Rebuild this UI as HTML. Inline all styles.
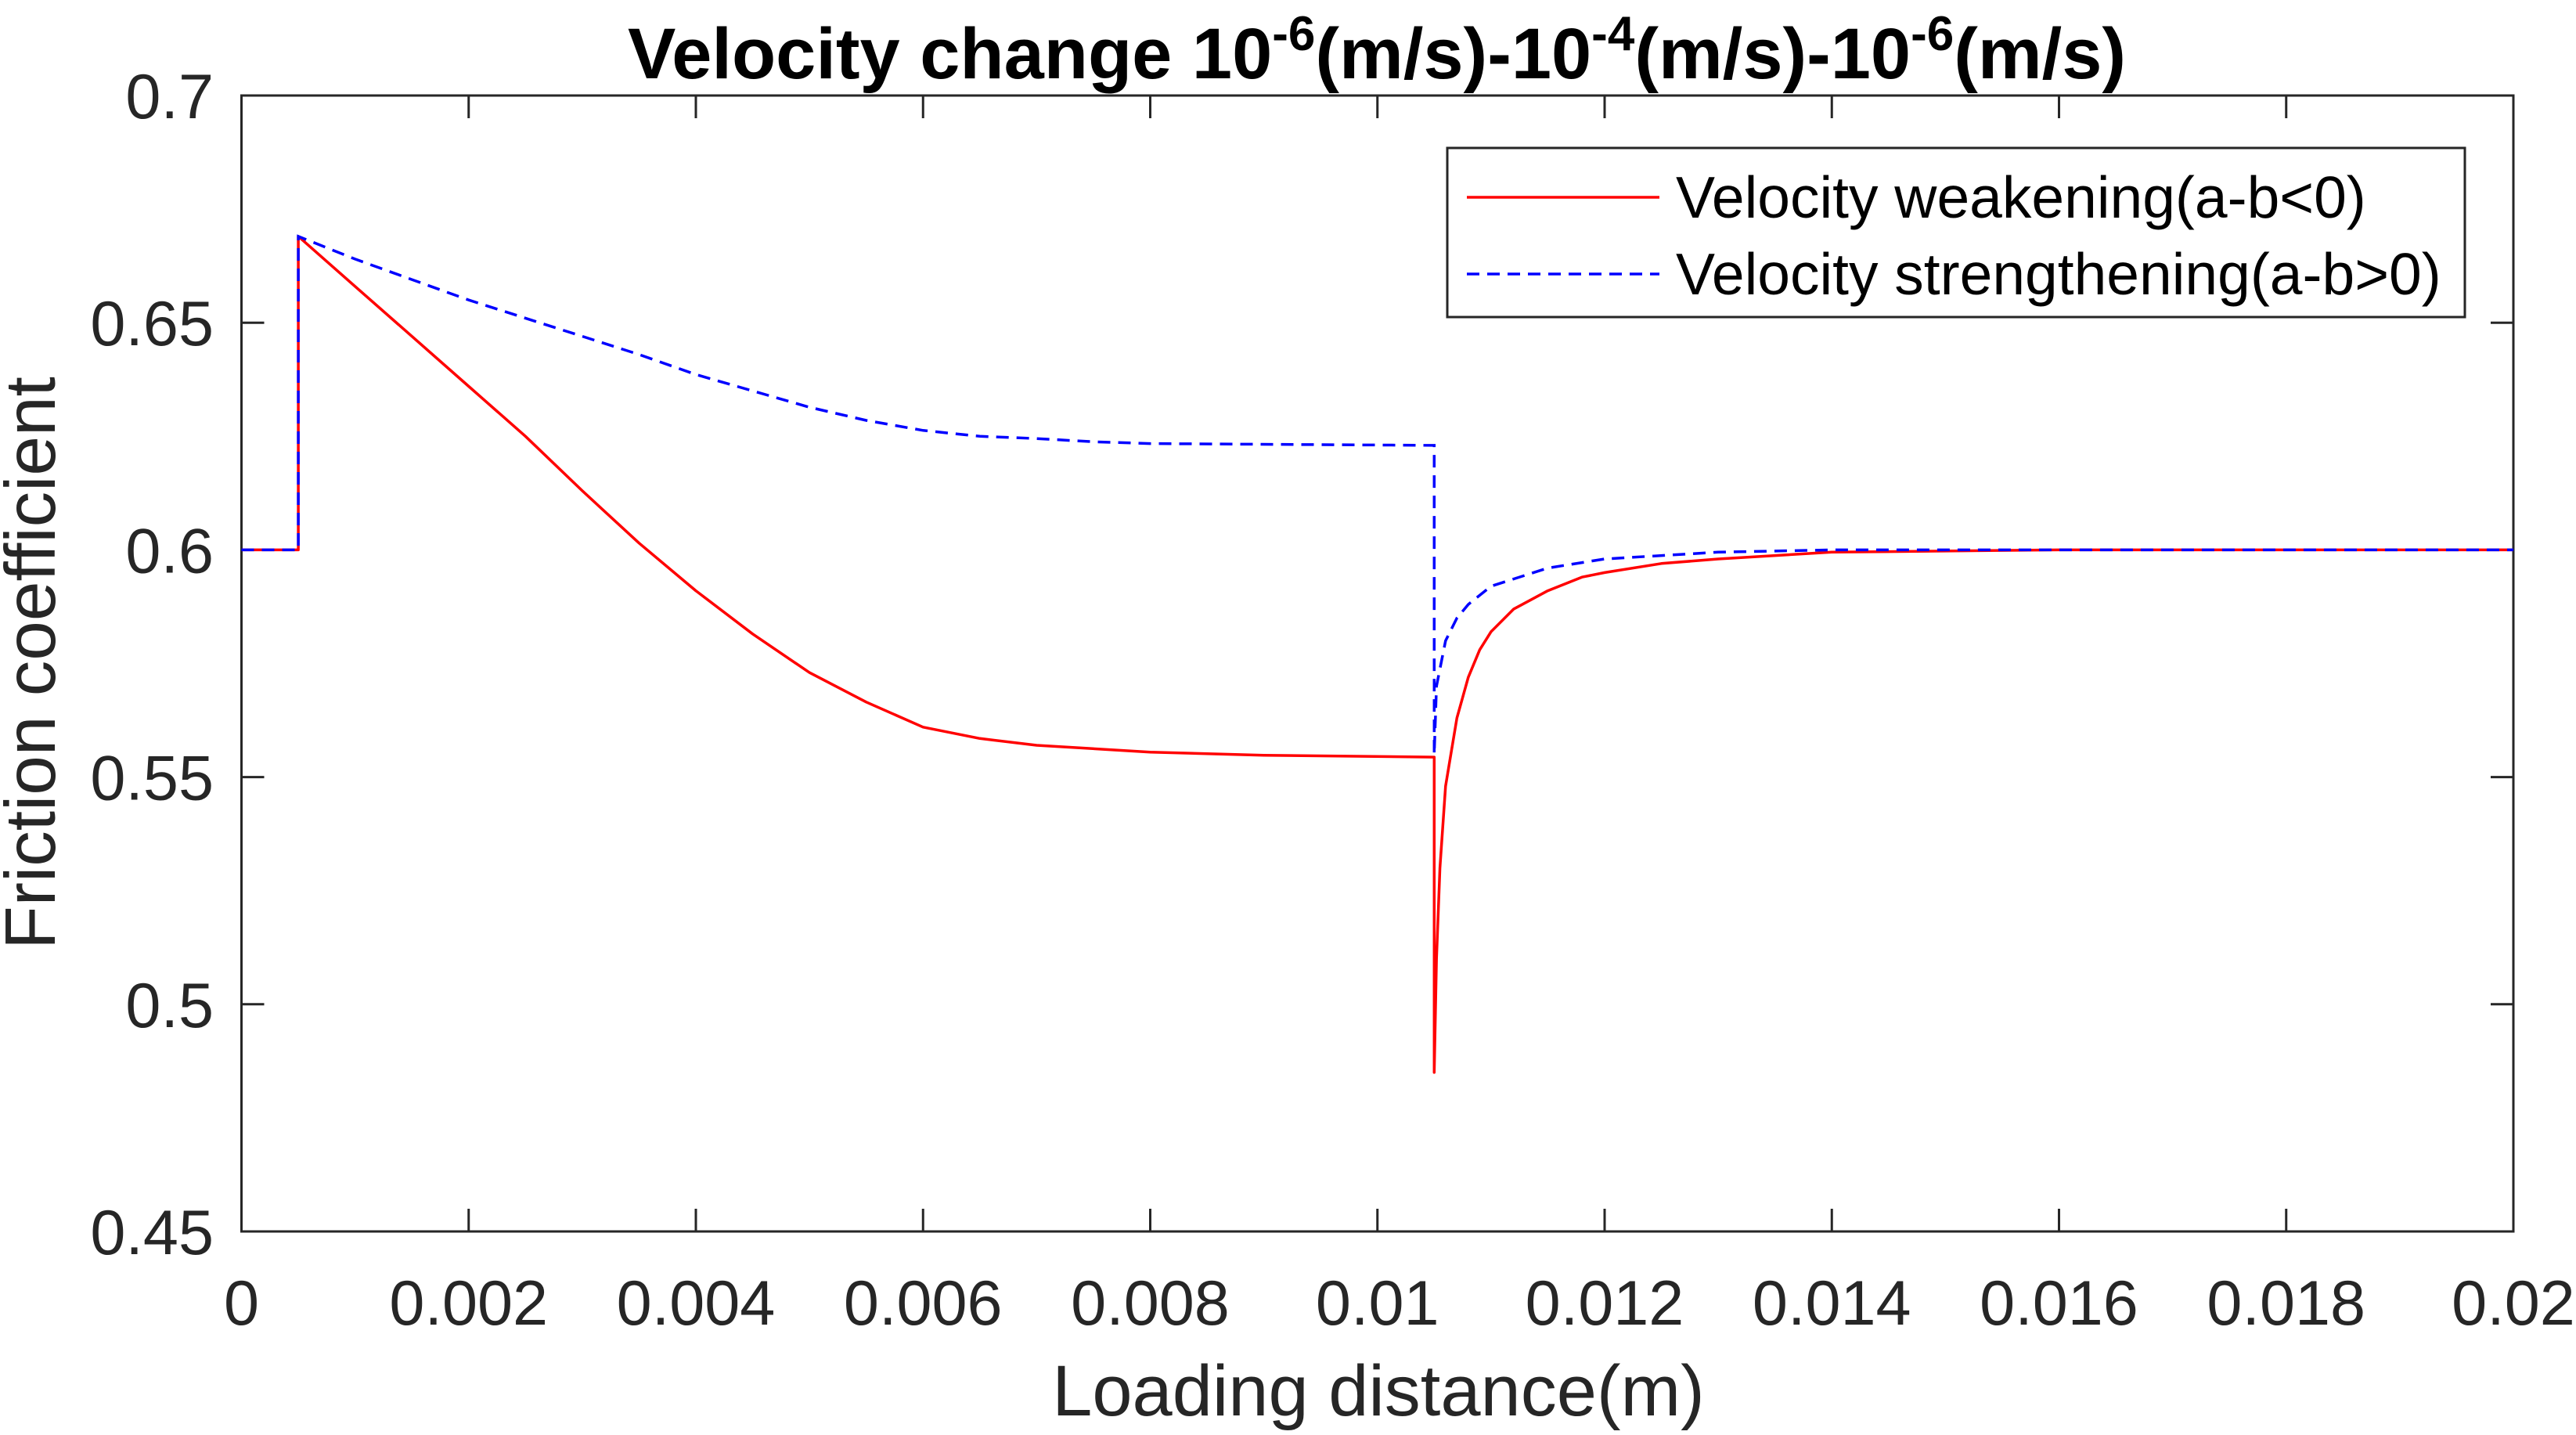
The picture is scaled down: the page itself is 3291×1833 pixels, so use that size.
<!DOCTYPE html>
<html><head><meta charset="utf-8"><style>
body{margin:0;background:#fff;}
svg{display:block;font-family:"Liberation Sans",sans-serif;}
</style></head><body>
<svg id="chart" width="3291" height="1833" viewBox="0 0 3291 1833">
<rect x="0" y="0" width="3291" height="1833" fill="#fff"/>
<g id="axes"></g>
<g id="series"></g>
<text x="1759" y="100" text-anchor="middle" font-size="92" font-weight="bold" fill="#000">Velocity change 10<tspan dy="-36" font-size="62">-6</tspan><tspan dy="36">(m/s)-10</tspan><tspan dy="-36" font-size="62">-4</tspan><tspan dy="36">(m/s)-10</tspan><tspan dy="-36" font-size="62">-6</tspan><tspan dy="36">(m/s)</tspan></text>
<text x="1761" y="1808" text-anchor="middle" font-size="92" fill="#262626">Loading distance(m)</text>
<text transform="translate(70,847) rotate(-90)" text-anchor="middle" font-size="91" fill="#262626">Friction coefficient</text>
<g>
<rect x="1849" y="189" width="1300" height="216" fill="#fff" stroke="#262626" stroke-width="3"/>
<line x1="1874" y1="252" x2="2120" y2="252" stroke="#ff0000" stroke-width="3.5"/>
<text x="2141" y="278" font-size="75" fill="#000">Velocity weakening(a-b&lt;0)</text>
<line x1="1874" y1="350" x2="2120" y2="350" stroke="#0000ff" stroke-width="3.5" stroke-dasharray="16,10"/>
<text x="2141" y="376" font-size="75" fill="#000">Velocity strengthening(a-b&gt;0)</text>
</g>
</svg>
<script>
const xTicks=[0,0.002,0.004,0.006,0.008,0.01,0.012,0.014,0.016,0.018,0.02];
const xTickLabels=["0","0.002","0.004","0.006","0.008","0.01","0.012","0.014","0.016","0.018","0.02"];
const yTicks=[0.45,0.5,0.55,0.6,0.65,0.7];
const yTickLabels=["0.45","0.5","0.55","0.6","0.65","0.7"];
const weakX=[0,0.0005,0.0005,0.001,0.0015,0.002,0.0025,0.003,0.0035,0.004,0.0045,0.005,0.0055,0.006,0.0065,0.007,0.008,0.009,0.0105,0.0105,0.01052,0.01055,0.0106,0.0107,0.0108,0.0109,0.011,0.0112,0.0115,0.0118,0.012,0.0125,0.013,0.014,0.016,0.02];
const weakY=[0.6,0.6,0.669,0.658,0.647,0.636,0.625,0.613,0.6015,0.591,0.5815,0.573,0.5665,0.561,0.5585,0.557,0.5555,0.5548,0.5544,0.485,0.51,0.53,0.548,0.563,0.572,0.578,0.582,0.587,0.591,0.594,0.595,0.597,0.598,0.5995,0.6,0.6];
const strongX=[0,0.0005,0.0005,0.00075,0.001,0.0015,0.002,0.0025,0.003,0.0035,0.004,0.0045,0.005,0.0055,0.006,0.0065,0.007,0.0075,0.008,0.0105,0.0105,0.01052,0.0106,0.0107,0.0108,0.011,0.0115,0.012,0.013,0.014,0.02];
const strongY=[0.6,0.6,0.669,0.6665,0.664,0.6595,0.655,0.651,0.647,0.643,0.6386,0.635,0.6314,0.6285,0.6263,0.625,0.6245,0.6238,0.6234,0.623,0.555,0.57,0.58,0.585,0.588,0.592,0.596,0.598,0.5995,0.6,0.6];
const L=308.5,R=3211,T=122,B=1573;
const xs=v=>L+(v-0)/(0.02)*(R-L);
const ys=v=>B-(v-0.45)/(0.25)*(B-T);
const NS="http://www.w3.org/2000/svg";
const axes=document.getElementById('axes');
const series=document.getElementById('series');
function mk(t,a,p){const e=document.createElementNS(NS,t);for(const k in a)e.setAttribute(k,a[k]);p.appendChild(e);return e;}
xTicks.forEach((v,i)=>{
 const x=xs(v);
 const t1=mk('line',{x1:x,y1:B,x2:x,y2:B-29,stroke:'#262626','stroke-width':3},axes);
 
 
 const t2=mk('line',{x1:x,y1:T,x2:x,y2:T+29,stroke:'#262626','stroke-width':3},axes);
 
 
 const tx=mk('text',{x:x,y:1692,'text-anchor':'middle','font-size':81,fill:'#262626'},axes);
 tx.textContent=xTickLabels[i];
 
 
});
yTicks.forEach((v,i)=>{
 const y=ys(v);
 const t1=mk('line',{x1:L,y1:y,x2:L+29,y2:y,stroke:'#262626','stroke-width':3},axes);
 
 
 const t2=mk('line',{x1:R,y1:y,x2:R-29,y2:y,stroke:'#262626','stroke-width':3},axes);
 
 
 const tx=mk('text',{x:273,y:y+29,'text-anchor':'end','font-size':81,fill:'#262626'},axes);
 tx.textContent=yTickLabels[i];
 
 
});
const box=mk('rect',{x:L,y:T,width:R-L,height:B-T,fill:'none',stroke:'#262626','stroke-width':3},axes);


function pts(X,Y){return X.map((x,i)=>xs(x).toFixed(1)+','+ys(Y[i]).toFixed(1)).join(' ');}
const w=mk('polyline',{points:pts(weakX,weakY),fill:'none',stroke:'#ff0000','stroke-width':3.5,'stroke-linejoin':'round'},series);


const s=mk('polyline',{points:pts(strongX,strongY),fill:'none',stroke:'#0000ff','stroke-width':3.5,'stroke-dasharray':'16,10'},series);


</script>
</body></html>
